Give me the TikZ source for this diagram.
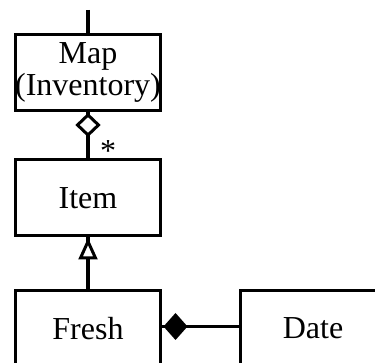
\documentclass[tikz,border=0pt]{standalone}
\usepackage{fontspec}
\setmainfont{Liberation Serif}
\begin{document}
\begin{tikzpicture}[x=1pt,y=-1pt,
  every node/.style={font=\fontsize{32}{32}\selectfont},
  classbox/.style={draw, line width=3pt, minimum width=145pt, minimum height=76pt, inner sep=0pt, align=center},
  link/.style={line width=3.5pt},
  hollowtip/.style={line width=3pt, fill=white, miter limit=10},
  solidtip/.style={fill=black}
]
\useasboundingbox (0,0) rectangle (375,363);
\clip (0,0) rectangle (375,363);

% classes
\node[classbox] (map)   at (88,72.5) {Map\\(Inventory)};
\node[classbox] (item)  at (88,198)  {Item};
\node[classbox] (fresh) at (88,328.5)  {Fresh};
\node[classbox] (date)  at (313,328.5) {Date};

% line leaving the map upwards
\coordinate (up) at (88,10);
\draw[link] (up) -- (map.north);

% aggregation: map holds many items (hollow diamond at the map)
\draw[link] (map.south) -- (item.north);
\draw[hollowtip] ([yshift=-3pt]map.south) -- ++(10.5,10) -- ++(-10.5,10) -- ++(-10.5,-10) -- cycle;
\node[anchor=base] (many) at (108,162) {*};

% generalisation: fresh is an item (hollow triangle at the item)
\draw[link] (fresh.north) -- (item.south);
\draw[hollowtip] ([yshift=-4pt]item.south) -- ++(7.5,16.5) -- ++(-15,0) -- cycle;

% composition: fresh owns a date (filled diamond at fresh)
\draw[link] ([yshift=2pt]fresh.east) -- ([yshift=2pt]date.west);
\fill[solidtip] ([shift={(1.5pt,2pt)}]fresh.east) -- ++(12,-13.5) -- ++(12,13.5) -- ++(-12,13.5) -- cycle;
\end{tikzpicture}
\end{document}
